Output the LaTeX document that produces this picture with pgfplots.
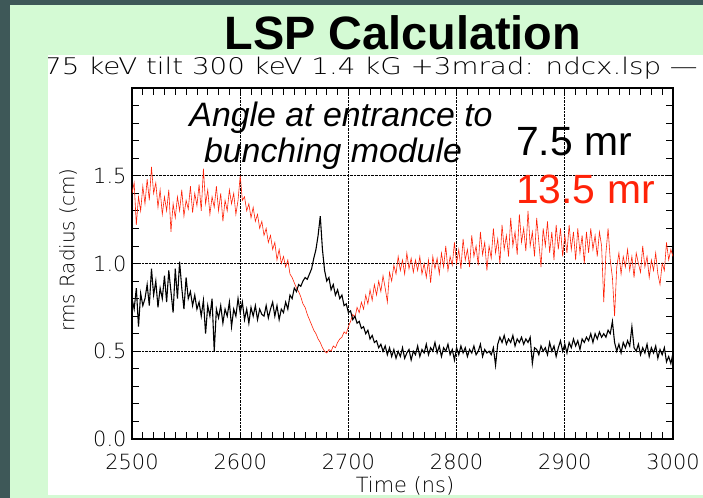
\documentclass[border=0pt]{standalone}
\usepackage{fontspec}
\setmainfont{Liberation Sans}
\newfontfamily\hershey{DejaVu Sans ExtraLight}
\usepackage{pgfplots}
\pgfplotsset{compat=1.18}

\definecolor{slidegreen}{RGB}{212,250,212}
\definecolor{slideedge}{RGB}{62,88,88}
\definecolor{beamred}{RGB}{255,34,8}

\begin{document}
\begin{tikzpicture}[x=1bp,y=1bp]
  % slide background and frame
  \fill[slidegreen] (0,0) rectangle (703,498);
  \fill[slideedge] (0,0) rectangle (10,498);
  \fill[slideedge] (0,493) rectangle (703,498);
  \fill[white] (48,3) rectangle (703,443);

  % slide title
  \node[anchor=base, inner sep=0pt, font=\fontsize{47}{47}\selectfont\bfseries]
    at (403,448) {LSP Calculation};

  % plot header line, cut off by the panel edge
  \begin{scope}
    \clip (48,3) rectangle (703,443);
    \node[anchor=base west, inner sep=0pt, xscale=1.21,
          font=\hershey\fontsize{23}{23}\selectfont]
      at (44,423) {75 keV tilt 300 keV 1.4 kG +3mrad: ndcx.lsp —};
  \end{scope}

  \begin{axis}[
    at={(132bp,59bp)}, anchor=south west,
    width=541bp, height=351bp, scale only axis,
    xmin=2500, xmax=3000, ymin=0, ymax=2,
    xtick={2500,2600,...,3000},
    ytick={0,0.5,1,1.5},
    yticklabels={0.0,0.5,1.0,1.5},
    minor xtick={2510,2520,...,2990},
    minor ytick={0.1,0.2,...,1.95},
    /pgf/number format/1000 sep={},
    /pgf/number format/assume math mode=true,
    ticklabel style={font=\hershey\fontsize{21}{21}\selectfont},
    xticklabel style={yshift=-11bp},
    yticklabel style={xshift=-2bp},
    tick align=inside,
    major tick length=0pt,
    minor tick length=7bp,
    tick style={black, line width=0.8pt},
    grid=major,
    major grid style={densely dotted, black, line width=0.7pt},
    minor grid style={draw=none},
    axis line style={line width=1.2pt},
  ]
  % 13.5 mr case
  \addplot[beamred, line width=0.6pt, mark=none] coordinates {
    (2500,1.40) (2502,1.46) (2504,1.22) (2506,1.38) (2508,1.30) (2510,1.44) (2512,1.34) (2514,1.48) (2516,1.36) (2518,1.55)
    (2520,1.40) (2522,1.46) (2524,1.32) (2526,1.42) (2528,1.28) (2530,1.38) (2532,1.30) (2534,1.42) (2536,1.18) (2538,1.34)
    (2540,1.26) (2542,1.38) (2544,1.30) (2546,1.42) (2548,1.27) (2550,1.36) (2552,1.31) (2554,1.44) (2556,1.29) (2558,1.40)
    (2560,1.33) (2562,1.45) (2564,1.30) (2566,1.54) (2568,1.34) (2570,1.42) (2572,1.28) (2574,1.38) (2576,1.32) (2578,1.44)
    (2580,1.30) (2582,1.40) (2584,1.24) (2586,1.36) (2588,1.30) (2590,1.42) (2592,1.34) (2594,1.40) (2596,1.28) (2598,1.36)
    (2600,1.50) (2602,1.36) (2604,1.38) (2606,1.30) (2608,1.34) (2610,1.26) (2612,1.32) (2614,1.24) (2616,1.28) (2618,1.20)
    (2620,1.24) (2622,1.16) (2624,1.20) (2626,1.12) (2628,1.16) (2630,1.08) (2632,1.12) (2634,1.02) (2636,1.08) (2638,1.00)
    (2640,1.04) (2642,0.98) (2644,1.02) (2646,0.94) (2648,0.92) (2650,0.89) (2652,0.86) (2654,0.84) (2656,0.81) (2658,0.77)
    (2660,0.75) (2662,0.71) (2664,0.68) (2666,0.65) (2668,0.62) (2670,0.60) (2672,0.57) (2674,0.55) (2676,0.52) (2678,0.50)
    (2680,0.49) (2682,0.51) (2684,0.50) (2686,0.53) (2688,0.52) (2690,0.55) (2692,0.57) (2694,0.58) (2696,0.61) (2698,0.60)
    (2700,0.64) (2702,0.67) (2704,0.71) (2706,0.69) (2708,0.75) (2710,0.72) (2712,0.78) (2714,0.74) (2716,0.82) (2718,0.77)
    (2720,0.85) (2722,0.79) (2724,0.88) (2726,0.82) (2728,0.90) (2730,0.84) (2732,0.93) (2734,0.86) (2736,0.78) (2738,0.95)
    (2740,0.90) (2742,0.99) (2744,0.94) (2746,1.04) (2748,0.96) (2750,1.02) (2752,0.94) (2754,1.06) (2756,0.97) (2758,1.03)
    (2760,0.95) (2762,1.02) (2764,0.96) (2766,1.04) (2768,0.94) (2770,1.00) (2772,0.92) (2774,1.02) (2776,0.89) (2778,1.04)
    (2780,0.97) (2782,1.03) (2784,0.94) (2786,1.06) (2788,0.98) (2790,1.10) (2792,0.96) (2794,1.04) (2796,0.99) (2798,1.12)
    (2800,1.00) (2802,1.08) (2804,0.97) (2806,1.14) (2808,1.02) (2810,1.08) (2812,0.98) (2814,1.16) (2816,1.04) (2818,1.10)
    (2820,0.99) (2822,1.18) (2824,1.05) (2826,1.12) (2828,0.96) (2830,1.10) (2832,1.03) (2834,1.20) (2836,1.06) (2838,1.14)
    (2840,1.00) (2842,1.22) (2844,1.08) (2846,1.16) (2848,1.04) (2850,1.26) (2852,1.10) (2854,1.18) (2856,1.05) (2858,1.28)
    (2860,1.12) (2862,1.20) (2864,1.07) (2866,1.30) (2868,1.10) (2870,1.18) (2872,1.04) (2874,1.26) (2876,1.12) (2878,0.98)
    (2880,1.20) (2882,1.10) (2884,1.24) (2886,1.06) (2888,1.18) (2890,1.02) (2892,1.22) (2894,1.08) (2896,1.20) (2898,1.04)
    (2900,1.16) (2902,1.06) (2904,1.22) (2906,1.08) (2908,1.18) (2910,1.02) (2912,1.20) (2914,1.06) (2916,1.16) (2918,1.00)
    (2920,1.18) (2922,1.06) (2924,1.20) (2926,1.08) (2928,1.16) (2930,1.04) (2932,1.18) (2934,1.10) (2936,0.78) (2938,1.06)
    (2940,1.20) (2942,1.02) (2944,0.92) (2946,0.70) (2948,0.98) (2950,1.06) (2952,0.94) (2954,1.04) (2956,0.98) (2958,1.08)
    (2960,0.96) (2962,1.04) (2964,0.92) (2966,1.06) (2968,1.00) (2970,0.95) (2972,1.10) (2974,0.98) (2976,1.04) (2978,0.92)
    (2980,1.02) (2982,0.96) (2984,1.06) (2986,0.94) (2988,0.88) (2990,1.00) (2992,0.96) (2994,1.12) (2996,1.02) (2998,1.08)
    (3000,1.04)
  };
  % 7.5 mr case
  \addplot[black, line width=1.1pt, mark=none] coordinates {
    (2500,0.80) (2502,0.74) (2504,0.86) (2506,0.64) (2508,0.83) (2510,0.76) (2512,0.80) (2514,0.88) (2516,0.76) (2518,0.97)
    (2520,0.82) (2522,0.90) (2524,0.75) (2526,0.86) (2528,0.80) (2530,0.93) (2532,0.78) (2534,0.96) (2536,0.84) (2538,0.72)
    (2540,0.97) (2542,0.80) (2544,1.01) (2546,0.86) (2548,0.74) (2550,0.92) (2552,0.80) (2554,0.84) (2556,0.76) (2558,0.82)
    (2560,0.74) (2562,0.78) (2564,0.70) (2566,0.79) (2568,0.60) (2570,0.76) (2572,0.70) (2574,0.80) (2576,0.50) (2578,0.74)
    (2580,0.69) (2582,0.76) (2584,0.66) (2586,0.74) (2588,0.70) (2590,0.78) (2592,0.64) (2594,0.74) (2596,0.70) (2598,0.80)
    (2600,0.72) (2602,0.78) (2604,0.68) (2606,0.74) (2608,0.66) (2610,0.75) (2612,0.70) (2614,0.76) (2616,0.68) (2618,0.74)
    (2620,0.71) (2622,0.70) (2624,0.76) (2626,0.69) (2628,0.74) (2630,0.78) (2632,0.70) (2634,0.76) (2636,0.68) (2638,0.74)
    (2640,0.72) (2642,0.78) (2644,0.74) (2646,0.82) (2648,0.80) (2650,0.86) (2652,0.84) (2654,0.88) (2656,0.87) (2658,0.90)
    (2660,0.92) (2662,0.91) (2664,0.94) (2666,0.97) (2668,1.03) (2670,1.08) (2672,1.16) (2674,1.27) (2676,1.08) (2678,0.96)
    (2680,0.90) (2682,0.92) (2684,0.85) (2686,0.88) (2688,0.82) (2690,0.85) (2692,0.80) (2694,0.82) (2696,0.76) (2698,0.77)
    (2700,0.72) (2702,0.73) (2704,0.68) (2706,0.70) (2708,0.66) (2710,0.67) (2712,0.63) (2714,0.64) (2716,0.60) (2718,0.62)
    (2720,0.57) (2722,0.59) (2724,0.55) (2726,0.56) (2728,0.52) (2730,0.54) (2732,0.50) (2734,0.53) (2736,0.48) (2738,0.52)
    (2740,0.47) (2742,0.51) (2744,0.46) (2746,0.50) (2748,0.47) (2750,0.52) (2752,0.46) (2754,0.49) (2756,0.51) (2758,0.45)
    (2760,0.50) (2762,0.48) (2764,0.53) (2766,0.47) (2768,0.51) (2770,0.49) (2772,0.54) (2774,0.48) (2776,0.52) (2778,0.50)
    (2780,0.55) (2782,0.49) (2784,0.53) (2786,0.47) (2788,0.52) (2790,0.50) (2792,0.54) (2794,0.48) (2796,0.51) (2798,0.45)
    (2800,0.52) (2802,0.48) (2804,0.53) (2806,0.49) (2808,0.52) (2810,0.47) (2812,0.51) (2814,0.49) (2816,0.53) (2818,0.48)
    (2820,0.50) (2822,0.54) (2824,0.47) (2826,0.51) (2828,0.49) (2830,0.50) (2832,0.48) (2834,0.52) (2836,0.42) (2838,0.54)
    (2840,0.58) (2842,0.55) (2844,0.59) (2846,0.54) (2848,0.57) (2850,0.55) (2852,0.59) (2854,0.53) (2856,0.57) (2858,0.55)
    (2860,0.58) (2862,0.54) (2864,0.57) (2866,0.55) (2868,0.58) (2870,0.43) (2872,0.52) (2874,0.51) (2876,0.48) (2878,0.53)
    (2880,0.50) (2882,0.52) (2884,0.48) (2886,0.55) (2888,0.50) (2890,0.53) (2892,0.47) (2894,0.52) (2896,0.56) (2898,0.50)
    (2900,0.54) (2902,0.49) (2904,0.55) (2906,0.52) (2908,0.57) (2910,0.53) (2912,0.56) (2914,0.51) (2916,0.57) (2918,0.55)
    (2920,0.58) (2922,0.56) (2924,0.60) (2926,0.55) (2928,0.60) (2930,0.57) (2932,0.61) (2934,0.58) (2936,0.60) (2938,0.58)
    (2940,0.62) (2942,0.60) (2944,0.67) (2946,0.55) (2948,0.50) (2950,0.54) (2952,0.49) (2954,0.55) (2956,0.52) (2958,0.56)
    (2960,0.53) (2962,0.64) (2964,0.52) (2966,0.50) (2968,0.54) (2970,0.48) (2972,0.52) (2974,0.49) (2976,0.54) (2978,0.47)
    (2980,0.52) (2982,0.49) (2984,0.53) (2986,0.46) (2988,0.51) (2990,0.48) (2992,0.52) (2994,0.44) (2996,0.47) (2998,0.43)
    (3000,0.49)
  };
  \end{axis}

  % axis titles
  \node[rotate=90, anchor=center, inner sep=0pt, font=\hershey\fontsize{20}{20}\selectfont]
    at (68,248) {rms Radius (cm)};
  \node[anchor=center, inner sep=0pt, font=\hershey\fontsize{21}{21}\selectfont]
    at (405,12) {Time (ns)};

  % annotations
  \node[anchor=base, inner sep=0pt, font=\fontsize{34}{34}\selectfont\itshape]
    at (341,371) {Angle at entrance to};
  \node[anchor=base, inner sep=0pt, font=\fontsize{34}{34}\selectfont\itshape]
    at (333,335) {bunching module};
  \node[anchor=base west, inner sep=0pt, font=\fontsize{41}{41}\selectfont]
    at (516,342) {7.5 mr};
  \node[anchor=base west, inner sep=0pt, text=beamred, font=\fontsize{41}{41}\selectfont]
    at (516,294) {13.5 mr};
\end{tikzpicture}
\end{document}
